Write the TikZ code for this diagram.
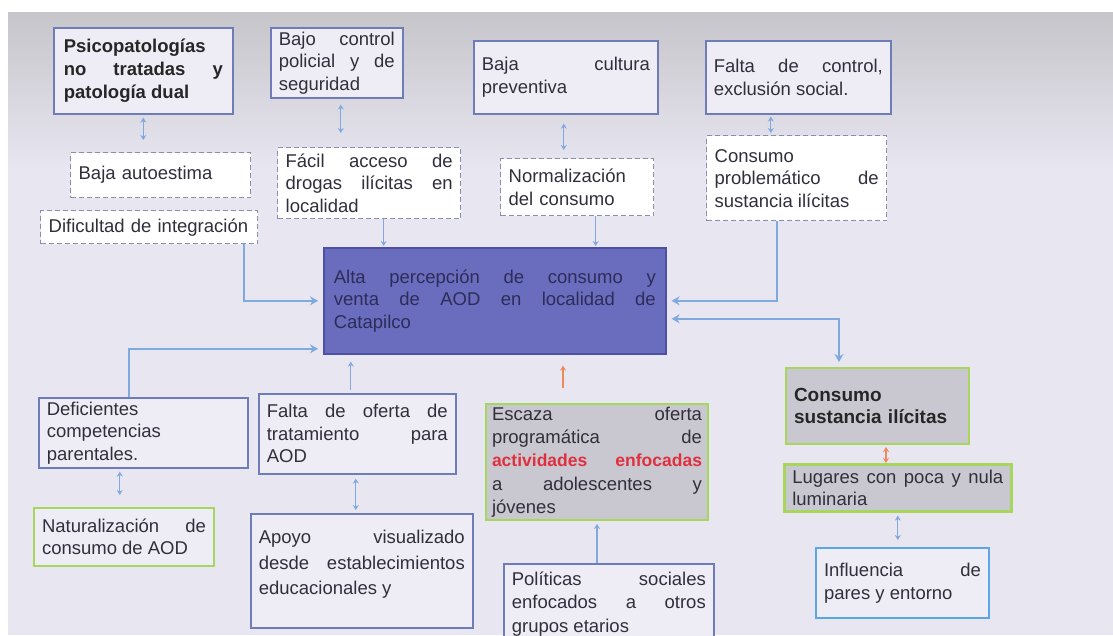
\documentclass[tikz,border=0pt]{standalone}
\usepackage{fontspec}
\setmainfont{Liberation Sans}
\usetikzlibrary{arrows.meta,calc}
\definecolor{bg}{HTML}{E8E6F1}
\definecolor{topgray}{HTML}{C6C5CA}
\definecolor{boxfill}{HTML}{EEEDF6}
\definecolor{bord}{HTML}{6E7DBA}
\definecolor{dashc}{HTML}{8A8FB0}
\definecolor{txt}{HTML}{302F3C}
\definecolor{cfill}{HTML}{6A6CBE}
\definecolor{cbord}{HTML}{4E50A4}
\definecolor{ctxt}{HTML}{2C2D58}
\definecolor{grayfill}{HTML}{C9C7CF}
\definecolor{grn}{HTML}{A8D65C}
\definecolor{redt}{HTML}{E03040}
\definecolor{arr}{HTML}{80AADF}
\definecolor{orng}{HTML}{F08A5A}
\definecolor{inflb}{HTML}{5AA6E6}
\tolerance=10000
\hbadness=10000
\lefthyphenmin=64
\hyphenpenalty=10000
\exhyphenpenalty=10000
\tikzset{
  myt/.tip={Stealth[length=8pt,width=9pt]},
  smt/.tip={Stealth[length=5pt,width=6pt]},
  base/.style={anchor=north west, inner xsep=8pt, inner ysep=3pt, align=justify,
    text=txt, font=\fontsize{18.5}{22.5}\selectfont, line width=1.6pt},
  solidbox/.style={base, draw=bord, fill=boxfill},
  dashbox/.style={base, draw=dashc, fill=white, line width=1.3pt, dash pattern=on 5pt off 3pt},
  graybox/.style={base, draw=grn, fill=grayfill, line width=2pt},
  greenbox/.style={base, draw=grn, fill=boxfill, line width=2pt},
  bluebox/.style={base, draw=inflb, fill=boxfill, line width=2pt},
  centralbox/.style={base, draw=cbord, fill=cfill, text=ctxt},
  conn/.style={draw=arr, line width=1.8pt, -myt},
  conn2/.style={draw=arr, line width=1.8pt, myt-myt},
  dbl/.style={draw=arr, line width=1.2pt, smt-smt},
  sgl/.style={draw=arr, line width=1.2pt, -smt},
  odbl/.style={draw=orng, line width=1.4pt, smt-smt},
  osgl/.style={draw=orng, line width=1.4pt, -smt},
}
\begin{document}
\begin{tikzpicture}[x=1pt,y=-1pt]
\useasboundingbox (0,0) rectangle (1113,635);
\clip (0,0) rectangle (1113,635);
\fill[white] (0,0) rectangle (1113,635);
\fill[bg] (8,12) rectangle (1113,635);
\shade[top color=topgray, bottom color=bg] (8,12) rectangle (1113,170);

% top row
\node[solidbox, text width=159pt, minimum height=86pt, inner xsep=10pt,
  font=\bfseries\fontsize{18.5}{23}\selectfont, text=black!85] (psico) at (53,27)
  {Psicopatologías\linebreak no tratadas y\linebreak patología dual};
\node[solidbox, text width=116pt, minimum height=70pt, inner ysep=1pt] (bajo) at (270,27)
  {Bajo control\linebreak policial y de\linebreak seguridad};
\node[solidbox, text width=168pt, minimum height=73pt] (cultura) at (473,40)
  {Baja cultura\linebreak preventiva};
\node[solidbox, text width=169pt, minimum height=73pt] (falta) at (705,40)
  {Falta de control,\linebreak exclusión social.};

% dashed row
\node[dashbox, text width=164pt, minimum height=45pt, align=left] (autoestima) at (70,152)
  {Baja autoestima};
\node[dashbox, text width=201pt, minimum height=33pt, align=left] (dificultad) at (40,210)
  {Dificultad de integración};
\node[dashbox, text width=167pt, minimum height=71pt, inner ysep=1pt] (facil) at (277,147)
  {Fácil acceso de\linebreak drogas ilícitas en\linebreak localidad};
\node[dashbox, text width=137pt, minimum height=57pt, align=left] (normal) at (500,158)
  {Normalización\\del consumo};
\node[dashbox, text width=164pt, minimum height=85pt] (consprob) at (706,135)
  {Consumo\\problemático de\linebreak sustancia ilícitas};

% central
\node[centralbox, text width=322pt, minimum height=106pt, inner xsep=10pt] (central) at (323,247)
  {Alta percepción de consumo y\linebreak venta de AOD en localidad de\linebreak Catapilco};

% lower row
\node[solidbox, text width=193pt, minimum height=70pt, align=left] (deficientes) at (38,397)
  {Deficientes\\competencias\\parentales.};
\node[solidbox, text width=181pt, minimum height=80pt] (faltaof) at (258,393)
  {Falta de oferta de\linebreak tratamiento para\linebreak AOD};
\node[graybox, text width=210pt, minimum height=116pt, inner xsep=6pt, inner ysep=1pt,
  font=\fontsize{18.5}{23.3}\selectfont] (escaza) at (485,403)
  {Escaza oferta\linebreak programática de\linebreak {\bfseries\color{redt}\fontsize{17.5}{23.3}\selectfont actividades enfocadas}\linebreak a adolescentes y\linebreak jóvenes};
\node[graybox, text width=167pt, minimum height=76pt, align=left,
  font=\bfseries\fontsize{19}{22.5}\selectfont, text=black!85] (conssust) at (785,367)
  {Consumo\\sustancia ilícitas};
\node[graybox, text width=211pt, minimum height=47pt, inner ysep=1pt, line width=2.6pt] (lugares) at (783,463)
  {Lugares con poca y nula\linebreak luminaria};
\node[greenbox, text width=164pt, minimum height=58pt] (natural) at (33,507)
  {Naturalización de\linebreak consumo de AOD};
\node[solidbox, text width=206pt, minimum height=114pt,
  font=\fontsize{18.5}{25.5}\selectfont] (apoyo) at (250,513)
  {Apoyo visualizado\linebreak desde establecimientos\linebreak educacionales y\rule[-17pt]{0pt}{0pt}};
\node[solidbox, text width=194pt, minimum height=80pt,
  font=\fontsize{18.5}{23.5}\selectfont] (politicas) at (503,563)
  {Políticas sociales\linebreak enfocados a otros\linebreak grupos etarios};
\node[bluebox, text width=157pt, minimum height=70pt] (influencia) at (815,547)
  {Influencia de\linebreak pares y entorno};

% short connectors, top
\draw[dbl, shorten <=3pt, shorten >=12pt] (psico.south) -- (psico.south |- autoestima.north);
\draw[dbl, shorten <=6pt, shorten >=14pt] ([xshift=4pt]bajo.south) -- ([xshift=4pt]bajo.south |- facil.north);
\draw[dbl, shorten <=9pt, shorten >=8pt] ([xshift=-2pt]cultura.south) -- ([xshift=-2pt]cultura.south |- normal.north);
\draw[dbl, shorten <=2pt, shorten >=2pt] ([xshift=-27.5pt]falta.south) -- ([xshift=-27.5pt]falta.south |- consprob.north);
\draw[sgl, shorten >=1pt] ([xshift=14.5pt]facil.south) -- ([xshift=14.5pt]facil.south |- central.north);
\draw[sgl, shorten >=1pt] ([xshift=18.5pt]normal.south) -- ([xshift=18.5pt]normal.south |- central.north);

% elbow connectors
\draw[conn] ([xshift=-14pt]dificultad.south east) |- ([xshift=-5pt]central.west);
\draw[conn] ([xshift=-20pt]consprob.south) |- ([xshift=5pt]central.east);
\draw[conn2] ([xshift=5pt,yshift=-18pt]central.east) -| ([xshift=-38.5pt,yshift=5pt]conssust.north);
\draw[conn] ([xshift=-14.5pt]deficientes.north) |- ([xshift=-5pt,yshift=-48pt]central.west);

% lower short connectors
\draw[sgl, shorten <=3pt, shorten >=7pt] ([xshift=-6.5pt]faltaof.north) -- ([xshift=-6.5pt]faltaof.north |- central.south);
\draw[osgl, shorten <=15pt, shorten >=11pt] ([xshift=-34pt]escaza.north) -- ([xshift=-34pt]escaza.north |- central.south);
\draw[dbl, shorten <=3pt, shorten >=12pt] ([xshift=-23.5pt]deficientes.south) -- ([xshift=-23.5pt]deficientes.south |- natural.north);
\draw[dbl, shorten <=4pt, shorten >=3pt] ([xshift=-1.5pt]faltaof.south) -- ([xshift=-1.5pt]faltaof.south |- apoyo.north);
\draw[draw=arr, line width=1.2pt, smt-, shorten <=3pt] (escaza.south) -- (escaza.south |- politicas.north);
\draw[odbl, shorten <=2pt] ([xshift=8.5pt]conssust.south) -- ([xshift=8.5pt]conssust.south |- lugares.north);
\draw[dbl, shorten <=3pt, shorten >=7pt] (lugares.south) -- (lugares.south |- influencia.north);
\end{tikzpicture}
\end{document}
